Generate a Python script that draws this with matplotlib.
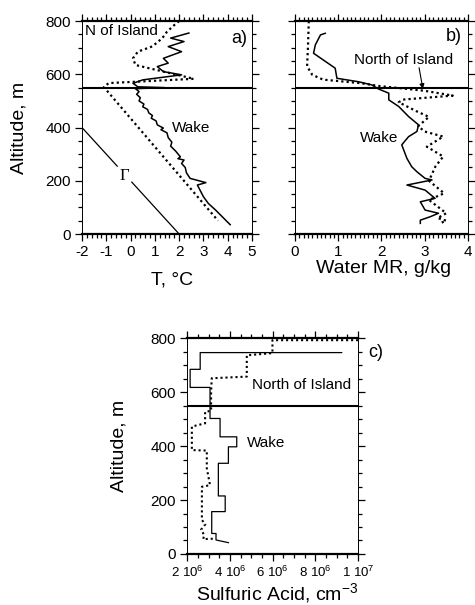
import matplotlib
matplotlib.use("Agg")
import matplotlib.pyplot as plt
import numpy as np
from matplotlib.ticker import MultipleLocator, FixedLocator

plt.rcParams["font.family"] = ["Liberation Sans", "DejaVu Sans"]
plt.rcParams["mathtext.fontset"] = "custom"
plt.rcParams["mathtext.rm"] = "Liberation Sans"
plt.rcParams["mathtext.it"] = "Liberation Sans:italic"
plt.rcParams["axes.unicode_minus"] = False

# --- panel a: temperature profiles ---
wake_T = [2.4, 1.65, 2.2, 1.55, 2.1, 1.35, 1.55, 1.1, 1.35, 2.1, 0.5, 0.1, 0.3, 1.4,
          0.2, 0.35, 0.25, 0.4, 0.35, 0.55, 0.5, 0.7, 0.75, 0.9, 0.85, 1.05, 1.1,
          1.35, 1.25, 1.5, 1.55, 1.7, 1.65, 1.85, 2.05, 1.95, 2.2, 2.1, 2.25, 2.3,
          2.45, 3.1, 2.75, 3.0, 3.2, 3.5, 4.1]
wake_T_alt = [755, 736, 723, 704, 685, 660, 642, 629, 610, 598, 579, 566, 553, 550,
              546, 535, 525, 512, 500, 488, 478, 468, 455, 445, 435, 425, 410,
              398, 392, 380, 362, 345, 330, 312, 290, 283, 278, 265, 250, 230,
              209, 193, 184, 140, 115, 90, 35]
north_T = [2.0, 1.8, 1.5, 1.3, 0.9, 0.3, 0.1, 0.2, 0.75, 1.6, 2.6, 1.5, 0.2, -0.9,
           -1.1, 3.6]
north_T_alt = [800, 785, 760, 735, 705, 685, 660, 635, 623, 605, 583, 578, 572, 567,
               552, 50]
gamma_T = [-2.0, -0.55, np.nan, 0.05, 2.0]
gamma_alt = [400, 255, np.nan, 195, 0]

# --- panel b: water mixing ratio ---
wake_mr = [0.70, 0.59, 0.47, 0.43, 0.93, 0.97, 1.47, 1.78, 1.93, 2.17, 2.17, 2.40,
           2.63, 2.86, 2.82, 2.63, 2.47, 2.59, 2.70, 2.82, 3.01, 3.17, 2.59, 3.01,
           3.24, 2.90, 3.01, 3.32, 3.13, 2.90, 2.90]
wake_mr_alt = [754, 748, 710, 679, 623, 585, 572, 560, 545, 529, 504, 479, 441, 410,
               385, 366, 335, 284, 253, 234, 209, 203, 184, 165, 134, 121, 90, 78,
               65, 52, 40]
north_mr = [0.32, 0.30, 0.28, 0.40, 0.65, 1.5, 1.95, 3.0, 3.65, 2.5, 2.4, 2.8, 3.1,
            2.85, 3.0, 3.43, 3.05, 3.43, 3.25, 3.1, 3.45, 3.1, 3.5, 3.3, 3.5, 3.35]
north_mr_alt = [800, 700, 630, 598, 580, 567, 556, 538, 520, 505, 495, 462, 440,
                405, 385, 366, 328, 291, 254, 200, 153, 128, 78, 60, 50, 40]

# --- panel c: sulfuric acid (step profiles) ---
wake_sa = [9.23e6, 2.61e6, 2.61e6, 2.14e6, 2.14e6, 3.07e6, 3.07e6, 3.54e6, 3.54e6,
           4.32e6, 4.32e6, 3.93e6, 3.93e6, 3.46e6, 3.46e6, 3.78e6, 3.78e6, 3.15e6,
           3.15e6, 3.35e6, 3.35e6, 3.93e6]
wake_sa_alt = [746, 746, 684, 684, 617, 617, 502, 502, 434, 434, 397, 397, 336, 336,
               215, 215, 157, 157, 76, 76, 52, 42]
north_sa = [1.0e7, 5.99e6, 5.99e6, 4.79e6, 4.79e6, 3.15e6, 3.12e6, 3.12e6, 2.84e6,
            2.84e6, 2.22e6, 2.22e6, 2.92e6, 2.92e6, 3.07e6, 2.69e6, 2.69e6, 2.85e6,
            2.65e6, 2.8e6, 2.75e6, 3.3e6]
north_sa_alt = [792, 792, 744, 736, 657, 651, 600, 530, 527, 484, 472, 385, 383, 317,
                255, 249, 126, 110, 90, 70, 55, 57]

sa_ticks = [2e6, 4e6, 6e6, 8e6, 1e7]
sa_labels = ["2 10$^{6}$", "4 10$^{6}$", "6 10$^{6}$", "8 10$^{6}$", "1 10$^{7}$"]

dot = (0, (1, 1.4))


def style_axes(ax, xminor):
    ax.set_ylim(0, 800)
    ax.yaxis.set_major_locator(MultipleLocator(200))
    ax.yaxis.set_minor_locator(MultipleLocator(50))
    ax.xaxis.set_minor_locator(MultipleLocator(xminor))
    ax.tick_params(which="both", direction="out", top=True, right=True,
                   labelsize=11, width=0.9)
    ax.tick_params(which="major", length=5, pad=3)
    ax.tick_params(which="minor", length=3)
    for s in ("left", "right"):
        ax.spines[s].set_linestyle((0, (1, 1)))
        ax.spines[s].set_linewidth(0.7)
    for s in ("top", "bottom"):
        ax.spines[s].set_linewidth(1.6)
    ax.axhline(550, color="black", lw=1.5)


fig = plt.figure(figsize=(4.75, 6.05), dpi=100)

ax1 = fig.add_axes([0.1726, 0.6132, 0.358, 0.352])
ax1.plot(wake_T, wake_T_alt, color="black", lw=1.1)
ax1.plot(north_T, north_T_alt, color="black", lw=1.6, linestyle=dot)
ax1.plot(gamma_T, gamma_alt, color="black", lw=0.9)
ax1.set_xlim(-2, 5)
ax1.xaxis.set_major_locator(MultipleLocator(1))
style_axes(ax1, 0.2)
ax1.text(-1.88, 762, "N of Island", fontsize=11, va="center", ha="left")
ax1.text(1.72, 397, "Wake", fontsize=11, va="center", ha="left")
ax1.text(-0.24, 218, "\u0393", fontsize=12, va="center", ha="center",
         family="Liberation Serif")
ax1.text(4.8, 735, "a)", fontsize=13, va="center", ha="right")
ax1.set_xlabel("T, \u00b0C", fontsize=14)
ax1.xaxis.set_label_coords(0.53, -0.175)
ax1.set_ylabel("Altitude, m", fontsize=14)
ax1.yaxis.set_label_coords(-0.32, 0.5)

ax2 = fig.add_axes([0.621, 0.6132, 0.364, 0.352])
ax2.plot(wake_mr, wake_mr_alt, color="black", lw=1.1)
ax2.plot(north_mr, north_mr_alt, color="black", lw=1.6, linestyle=dot)
ax2.set_xlim(0, 4)
ax2.xaxis.set_major_locator(MultipleLocator(1))
style_axes(ax2, 0.1)
ax2.set_yticklabels([])
ax2.text(1.36, 654, "North of Island", fontsize=11, va="center", ha="left")
ax2.annotate("", xy=(2.97, 535), xytext=(2.86, 635),
             arrowprops=dict(arrowstyle="-|>", lw=0.8, color="black",
                             mutation_scale=7))
ax2.text(1.51, 360, "Wake", fontsize=11, va="center", ha="left")
ax2.text(3.86, 742, "b)", fontsize=13, va="center", ha="right")
ax2.set_xlabel("Water MR, g/kg", fontsize=14)
ax2.xaxis.set_label_coords(0.51, -0.12)

ax3 = fig.add_axes([0.394, 0.0843, 0.36, 0.357])
ax3.plot(wake_sa, wake_sa_alt, color="black", lw=0.9)
ax3.plot(north_sa, north_sa_alt, color="black", lw=1.5, linestyle=dot)
ax3.set_xlim(2e6, 1e7)
ax3.xaxis.set_major_locator(FixedLocator(sa_ticks))
ax3.set_xticklabels(sa_labels)
style_axes(ax3, 0.5e6)
ax3.tick_params(axis="x", labelsize=9.5)
ax3.text(5.02e6, 626, "North of Island", fontsize=11, va="center", ha="left")
ax3.text(4.79e6, 410, "Wake", fontsize=11, va="center", ha="left")
ax3.text(1.046e7, 746, "c)", fontsize=13, va="center", ha="left", clip_on=False)
ax3.set_xlabel("Sulfuric Acid, cm$^{-3}$", fontsize=14)
ax3.xaxis.set_label_coords(0.526, -0.125)
ax3.set_ylabel("Altitude, m", fontsize=14)
ax3.yaxis.set_label_coords(-0.35, 0.5)

fig.savefig("out.png", dpi=100, facecolor="white")
